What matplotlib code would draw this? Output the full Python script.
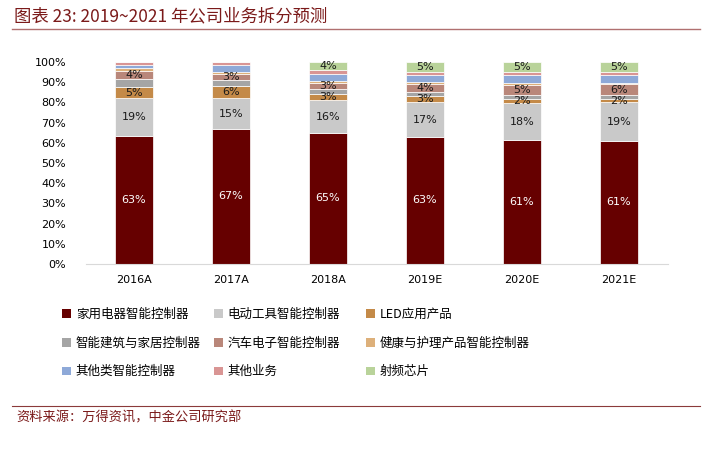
import numpy as np
import matplotlib
matplotlib.use("Agg")
import matplotlib.pyplot as plt
from matplotlib.patches import Patch

plt.rcParams['font.family'] = ['Noto Sans CJK SC', 'DejaVu Sans']

# ---- data (share of revenue, %) ----
years = ['2016A', '2017A', '2018A', '2019E', '2020E', '2021E']
series_names = ['家用电器智能控制器', '电动工具智能控制器', 'LED应用产品',
                '智能建筑与家居控制器', '汽车电子智能控制器', '健康与护理产品智能控制器',
                '其他类智能控制器', '其他业务', '射频芯片']
home_appl = [63.4, 67.0, 65.0, 63.0, 61.3, 61.0]
power_tools = [19.0, 15.0, 16.0, 17.0, 18.3, 19.0]
led = [5.0, 6.0, 3.0, 3.0, 2.0, 1.8]
smart_building = [4.0, 3.0, 2.5, 2.0, 2.0, 1.7]
auto_elec = [4.0, 3.0, 3.0, 4.0, 5.0, 5.6]
health_care = [1.5, 1.0, 1.0, 1.0, 0.8, 0.7]
other_ctrl = [1.6, 3.5, 3.8, 3.5, 4.0, 3.8]
other_biz = [1.5, 1.5, 1.5, 1.5, 1.6, 1.4]
rf_chip = [0.0, 0.0, 4.2, 5.0, 5.0, 5.0]

colors = ['#660000', '#C9C9C9', '#C48A48', '#A5A5A5', '#B9877A',
          '#DDB07A', '#8EA9D8', '#D99594', '#B9D39A']
labelled = [0, 1, 2, 4, 8]

data = [home_appl, power_tools, led, smart_building, auto_elec,
        health_care, other_ctrl, other_biz, rf_chip]

W, H = 707, 449
fig = plt.figure(figsize=(W / 100, H / 100), dpi=100)
ax = fig.add_axes([85.5 / W, 185 / H, 582 / W, 202 / H])

x = np.arange(len(years))
bottom = np.zeros(len(years))
handles = []
for i, vals in enumerate(data):
    v = np.array(vals) / 100.0
    ax.bar(x, v, 0.4, bottom=bottom, color=colors[i],
           edgecolor='white', linewidth=0.5)
    handles.append(Patch(facecolor=colors[i], edgecolor='none'))
    if i in labelled:
        for xi, b, vi in zip(x, bottom, v):
            if vi <= 0:
                continue
            ax.text(xi, b + vi / 2, f"{round(vi * 100)}%", ha='center', va='center',
                    fontsize=8, family='DejaVu Sans',
                    color='white' if i == 0 else '#1a1a1a')
    bottom += v

ax.set_xlim(-0.5, len(years) - 0.5)
ax.set_ylim(0, 1)
ax.set_yticks(np.linspace(0, 1, 11))
ax.set_yticklabels([f"{int(t)}%" for t in np.linspace(0, 100, 11)],
                   family='DejaVu Sans', fontsize=8)
ax.set_xticks(x)
ax.set_xticklabels(years, family='DejaVu Sans', fontsize=8)
ax.tick_params(axis='y', length=0, pad=14)
ax.tick_params(axis='x', length=0, pad=8)
for s in ['top', 'right', 'left']:
    ax.spines[s].set_visible(False)
ax.spines['bottom'].set_color('#D9D9D9')

# legend, three fixed-width columns like the original
col_x = [62, 214, 366]
for c in range(3):
    idx = [c, c + 3, c + 6]
    fig.legend([handles[k] for k in idx], [series_names[k] for k in idx],
               loc='upper left', bbox_to_anchor=(col_x[c] / W, 1 - 308 / H),
               frameon=False, fontsize=9, handlelength=0.7, handleheight=0.7,
               handletextpad=0.4, labelspacing=1.25, borderaxespad=0, borderpad=0)

# title and source
fig.text(14 / W, 1 - 16 / H, '图表 23: 2019~2021 年公司业务拆分预测', fontsize=12.5,
         color='#7B1A1A', va='center', ha='left')
fig.add_artist(plt.Line2D([12 / W, 700 / W], [1 - 29 / H, 1 - 29 / H],
                          color='#B07070', linewidth=1))
fig.add_artist(plt.Line2D([12 / W, 700 / W], [1 - 406 / H, 1 - 406 / H],
                          color='#8B3A3A', linewidth=0.8))
fig.text(16 / W, 1 - 418 / H, '资料来源：万得资讯，中金公司研究部', fontsize=9.5,
         color='#7B1A1A', va='center', ha='left')

fig.savefig('out.png', dpi=100)
